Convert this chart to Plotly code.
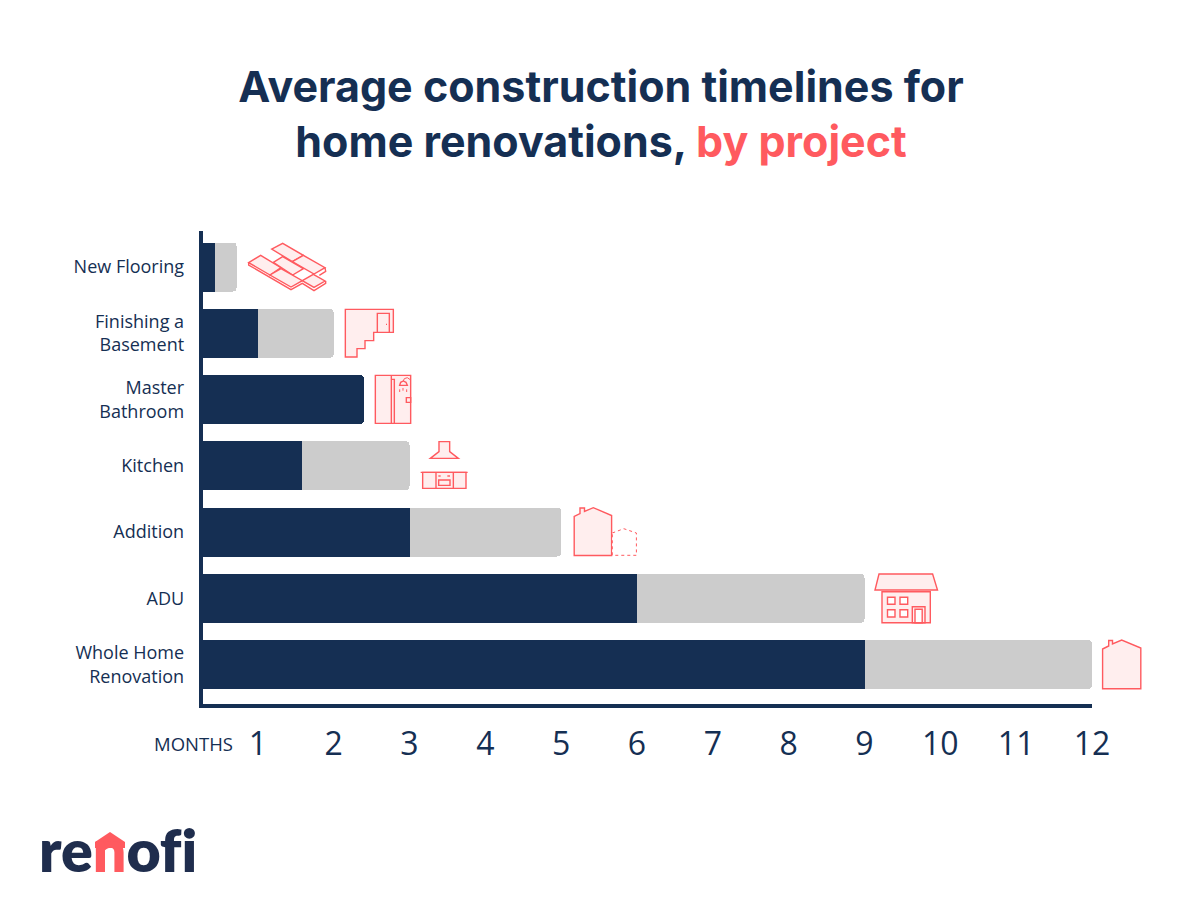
import plotly.graph_objects as go

categories = ["New Flooring", "Finishing a<br>Basement", "Master<br>Bathroom", "Kitchen",
              "Addition", "ADU", "Whole Home<br>Renovation"]
months_low = [0.43, 1.0, None, 1.58, 3.0, 6.0, 9.0]
months_extra = [0.29, 1.0, 2.4, 1.42, 2.0, 3.0, 3.0]
tick_values = list(range(1, 13))
tick_labels = [str(v) for v in tick_values]

NAVY = "#152f53"
RED = "#ff5a5f"
GREY = "#cccccc"
TINT = "#ffeeee"
LOGO = "#1f2d4d"
W, H = 1200, 900
extra_colors = [NAVY if low is None else GREY for low in months_low]


def px(x):
    return x / W


def py(y):
    return 1 - y / H


def poly(points, fill=TINT, close=True, color=RED, width=1.4, dash="solid"):
    d = "M " + " L ".join(f"{px(x):.5f},{py(y):.5f}" for x, y in points)
    if close:
        d += " Z"
    return dict(type="path", xref="paper", yref="paper", path=d, layer="above",
                fillcolor=fill if close else "rgba(0,0,0,0)",
                line=dict(color=color, width=width, dash=dash))


def rect(x0, y0, x1, y1, fill=TINT, **kw):
    return poly([(x0, y0), (x1, y0), (x1, y1), (x0, y1)], fill=fill, **kw)


def z1(points):
    return [(190 + x / 3, 230 + y / 3) for x, y in points]


shapes = []
# flooring
for brick in [
    [(245, 57), (278, 40), (340, 76), (307, 95)],
    [(307, 95), (340, 76), (405, 113), (372, 132)],
    [(176, 98), (212, 76), (273, 113), (240, 135)],
    [(250, 97), (278, 80), (340, 116), (308, 135)],
    [(240, 135), (273, 116), (337, 152), (303, 171)],
    [(337, 152), (370, 133), (405, 153), (372, 172)],
]:
    shapes.append(poly(z1(brick)))
shapes.append(poly(z1([(176, 98), (176, 105), (303, 179), (337, 160), (372, 182), (407, 160), (407, 153)]), close=False))
shapes.append(poly(z1([(405, 113), (407, 124), (388, 136)]), close=False))
# basement
shapes.append(poly(z1([(466, 238), (610, 238), (610, 307), (551, 307), (551, 332), (525, 332),
                       (525, 356), (501, 356), (501, 381), (466, 381)])))
shapes.append(poly(z1([(562, 307), (562, 250), (598, 250), (598, 307)]), close=False))
shapes.append(poly(z1([(588, 283), (591, 283)]), close=False))
# bathroom
shapes.append(poly(z1([(556, 436), (662, 436), (662, 580), (556, 580)])))
shapes.append(poly(z1([(604, 436), (604, 580)]), close=False))
shapes.append(poly(z1([(604, 448), (613, 448), (613, 580)]), close=False))
shapes.append(poly(z1([(629, 466), (632, 457), (640, 453), (648, 457), (652, 466)])))
shapes.append(poly(z1([(640, 453), (643, 446), (652, 443), (662, 450)]), close=False, width=1))
for dx, dy in [(629, 478), (639, 474), (650, 478)]:
    shapes.append(poly(z1([(dx, dy), (dx, dy + 8)]), close=False, width=1))
shapes.append(poly(z1([(649, 503), (662, 503), (662, 517), (649, 517)])))
# kitchen
shapes.append(poly(z1([(747, 635), (779, 635), (779, 665), (805, 685), (721, 685), (747, 665)])))
shapes.append(poly(z1([(698, 727), (828, 727), (828, 775), (698, 775)])))
shapes.append(poly(z1([(692, 727), (833, 727)]), close=False))
shapes.append(poly(z1([(738, 727), (738, 775)]), close=False))
shapes.append(poly(z1([(790, 727), (790, 775)]), close=False))
shapes.append(poly(z1([(746, 750), (780, 750), (780, 766), (746, 766)]), fill=TINT))
shapes.append(poly(z1([(745, 738), (752, 738)]), close=False))
shapes.append(poly(z1([(772, 738), (780, 738)]), close=False))
# addition
shapes.append(poly([(574.2, 555.5), (611.6, 555.5), (611.6, 515.5), (593.3, 507.7), (584.5, 511.5),
                    (584.5, 508), (580, 508), (580, 513.5), (574.2, 516.5)]))
shapes.append(poly([(612.3, 533), (623.8, 528.7), (636.4, 533), (636.4, 555.3), (612.3, 555.3)],
                   fill="#ffffff", width=1, dash="dot"))
# ADU
shapes.append(poly([(879, 574), (932.6, 574), (937.5, 590), (875, 590)]))
shapes.append(rect(882, 591.7, 930.3, 622.7))
for x0, x1 in [(887.5, 895), (900, 907.7)]:
    for y0, y1 in [(597.3, 604.3), (609.7, 617)]:
        shapes.append(rect(x0, y0, x1, y1, fill="#ffffff"))
shapes.append(rect(912.3, 606.7, 925, 622.7))
shapes.append(rect(915, 609.3, 922.2, 622.7, fill="#ffffff"))
# whole home
shapes.append(poly([(1102.6, 688.7), (1140.8, 688.7), (1140.8, 648), (1121.7, 640), (1112.5, 644),
                    (1112.5, 640.5), (1108.7, 640.5), (1108.7, 646), (1102.6, 649)]))
# logo roof over the n
shapes.append(poly([(95, 842), (110, 832), (125, 842), (125, 848), (95, 848)],
                   fill=RED, color=RED, width=0))

fig = go.Figure()
fig.add_trace(go.Bar(y=categories, x=months_low, orientation="h", marker=dict(color=NAVY, line_width=0),
                     width=0.74, showlegend=False, hoverinfo="skip"))
fig.add_trace(go.Bar(y=categories, x=months_extra, orientation="h", marker=dict(color=extra_colors, line_width=0),
                     width=0.74, showlegend=False, hoverinfo="skip"))

fig.update_layout(
    width=W, height=H, margin=dict(l=0, r=0, t=0, b=0, pad=0), autosize=False,
    paper_bgcolor="white", plot_bgcolor="white",
    barmode="stack", barcornerradius=4,
    font=dict(family="Open Sans", color=NAVY),
    title=dict(
        text=f"Average construction timelines for<br>home renovations, <span style='color:{RED}'>by project</span>",
        font=dict(family="Inter", size=43, weight=700, color=NAVY),
        x=601 / W, xanchor="center", xref="paper", y=py(101.5), yanchor="middle", yref="paper",
        pad=dict(t=0, b=0, l=0, r=0),
    ),
    xaxis=dict(
        domain=[202.7 / W, 1092 / W], range=[0.273, 12], anchor="y", automargin=False,
        tickmode="array", tickvals=tick_values, ticktext=tick_labels,
        tickfont=dict(family="Open Sans", size=32, color=NAVY), ticks="",
        showgrid=False, zeroline=False, showline=True, linecolor=NAVY, linewidth=4,
        ticklabelstandoff=8, fixedrange=True,
    ),
    yaxis=dict(
        domain=[py(704.3), py(230.6)], range=[6.6, -0.55], anchor="x", automargin=False,
        type="category", categoryorder="array", categoryarray=categories,
        tickfont=dict(family="Open Sans", size=18, color=NAVY), ticks="",
        showgrid=False, zeroline=False, showline=True, linecolor=NAVY, linewidth=4,
        ticklabelstandoff=11, fixedrange=True,
    ),
    shapes=shapes,
    annotations=[
        dict(text="MONTHS", xref="paper", yref="paper", x=px(193.5), y=py(743), xanchor="center", yanchor="middle",
             showarrow=False, font=dict(family="Open Sans", size=18.5, color=NAVY)),
        dict(text=f"re<span style='color:{RED}'>n</span>of\u200ci", xref="paper", yref="paper", x=px(117.5), y=py(849),
             xanchor="center", yanchor="middle", showarrow=False,
             font=dict(family="Lato", size=59, weight=800, color=LOGO)),
    ],
)

fig.write_html("out.html", post_script="document.body.style.margin='0';", config={"displayModeBar": False})
